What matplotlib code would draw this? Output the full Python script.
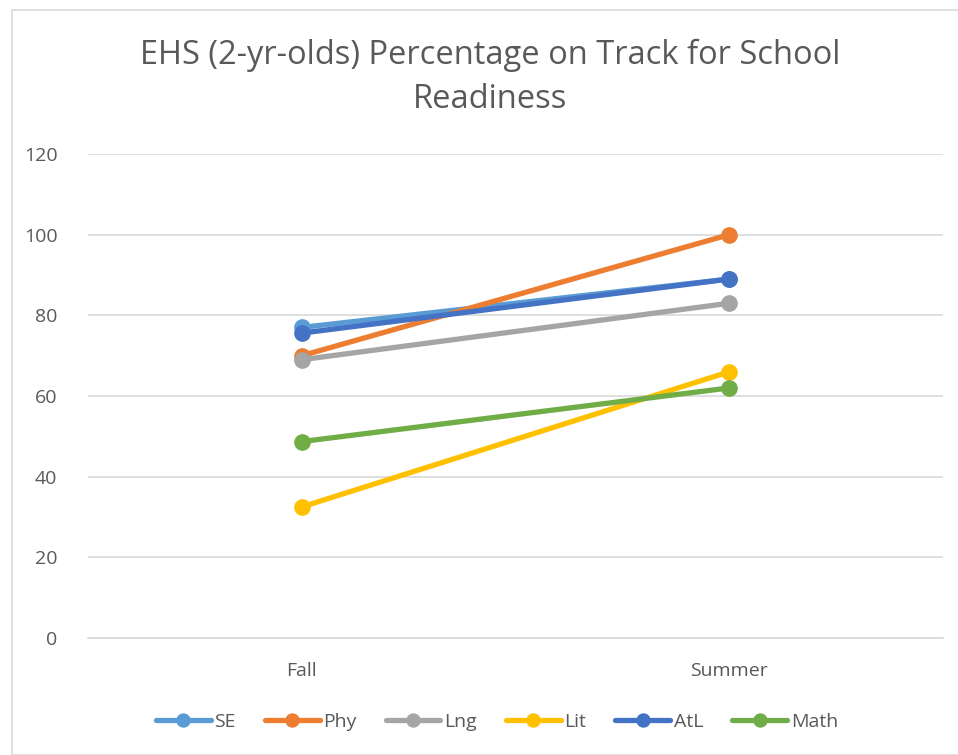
import matplotlib
matplotlib.use("Agg")
import matplotlib.pyplot as plt
from matplotlib.patches import Rectangle

categories = ["Fall", "Summer"]
series_names = ["SE", "Phy", "Lng", "Lit", "AtL", "Math"]
SE = [77, 89]
Phy = [70, 100]
Lng = [69, 83]
Lit = [32.5, 66]
AtL = [75.6, 89]
Math = [48.7, 62]
colors = ["#5B9BD5", "#ED7D31", "#A5A5A5", "#FFC000", "#4472C4", "#70AD47"]
yticks = [0, 20, 40, 60, 80, 100, 120]

plt.rcParams['font.family'] = ['Open Sans', 'DejaVu Sans']

W, H = 958, 755
fig = plt.figure(figsize=(W/100, H/100), dpi=100)
fig.patch.set_facecolor("white")
fig.patches.append(Rectangle((12/W, 0), 1, 1 - 10/H, transform=fig.transFigure,
                             fill=False, edgecolor="#D9D9D9", linewidth=1.2))

left, right, bottom, top = 88/W, 943/W, 1 - 638/H, 1 - 154/H
ax = fig.add_axes([left, bottom, right - left, top - bottom])

data = [SE, Phy, Lng, Lit, AtL, Math]
x = [0, 1]
for name, vals, c in zip(series_names, data, colors):
    ax.plot(x, vals, color=c, linewidth=3.8, marker="o", markersize=11,
            label=name, solid_capstyle="round", zorder=3)

ax.set_xlim(-0.5, 1.5)
ax.set_ylim(0, 120)
ax.set_xticks(x)
ax.set_xticklabels(categories)
ax.set_yticks(yticks)
ax.grid(axis="y", color="#D9D9D9", linewidth=1.2)
ax.set_axisbelow(True)
for s in ["top", "right", "left"]:
    ax.spines[s].set_visible(False)
ax.spines["bottom"].set_color("#D9D9D9")
ax.spines["bottom"].set_linewidth(1.2)
ax.tick_params(axis="both", length=0, labelsize=14, colors="#595959")
ax.tick_params(axis="y", pad=22)
ax.tick_params(axis="x", pad=17)

fig.text(490/W, 1 - 55/H, "EHS (2-yr-olds) Percentage on Track for School",
         ha="center", va="center", fontsize=23.5, color="#595959")
fig.text(490/W, 1 - 100/H, "Readiness",
         ha="center", va="center", fontsize=23.5, color="#595959")

leg = fig.legend(loc="center", bbox_to_anchor=(497/W, 1 - 722/H), ncol=6,
                 frameon=False, fontsize=14, handlelength=2.8, markerscale=0.85,
                 columnspacing=1.5, handletextpad=0.2)
for t in leg.get_texts():
    t.set_color("#595959")

fig.savefig("out.png", dpi=100, facecolor="white")
